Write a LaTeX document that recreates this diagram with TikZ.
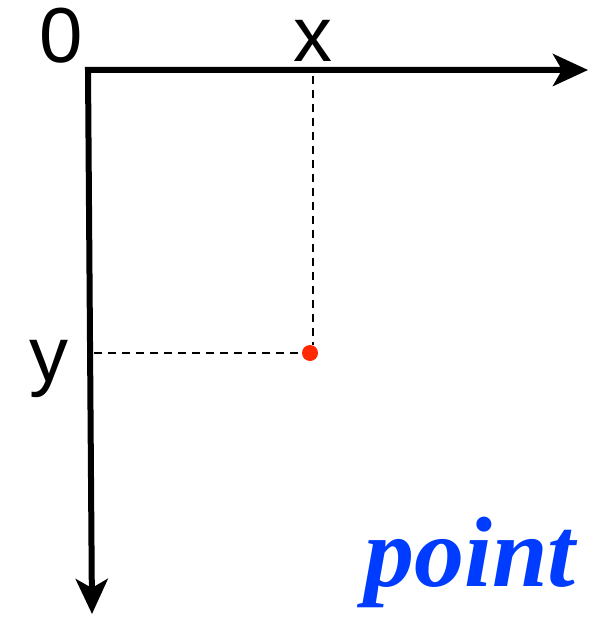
\documentclass[tikz,border=0pt]{standalone}
\usepackage{fontspec}
\usepackage{tikz}
\usetikzlibrary{arrows.meta,positioning}
\newfontfamily\axisfont{Liberation Sans}
\newfontfamily\pointfont{Liberation Serif}
\definecolor{dotred}{RGB}{255,40,0}
\definecolor{ptblue}{RGB}{0,60,255}
\tikzset{
  axisarr/.style={{Stealth[length=35pt, width=32pt, inset=9pt]}-{Stealth[length=35pt, width=32pt, inset=9pt]},
                  black, line width=6pt, line join=miter},
  guide/.style={black, line width=2pt, dash pattern=on 8pt off 6pt},
  axlab/.style={font=\axisfont\fontsize{78}{90}\selectfont, inner sep=0pt, anchor=base},
  ptlab/.style={font=\pointfont\bfseries\itshape\fontsize{100}{110}\selectfont, text=ptblue,
                inner sep=0pt, anchor=base},
  pdot/.style={circle, fill=dotred, inner sep=0pt, minimum size=16pt},
}

\begin{document}
\begin{tikzpicture}[x=1pt, y=-1pt]
    \useasboundingbox (0,0) rectangle (605,617);
    % axes
    \coordinate (O) at (88,70);
    \coordinate (xend) at (588,70);
    \coordinate (yend) at (92,614);
    \draw[axisarr] (xend) -- (O) -- (yend);
    % point and guides
    \node[pdot] (P) at (310,353) {};
    \coordinate (xfoot) at (313,76);
    \coordinate (yfoot) at (94,353);
    \draw[guide] (xfoot) -- (P.north -| xfoot);
    \draw[guide] (yfoot) -- (P.west);
    % labels
    \node[axlab] (lo) at (61,63) {0};
    \node[axlab] (lx) at (313,62) {x};
    \node[axlab] (ly) at (49,381) {y};
    \node[ptlab] (lp) at (470,586) {point};
  \end{tikzpicture}
\end{document}
